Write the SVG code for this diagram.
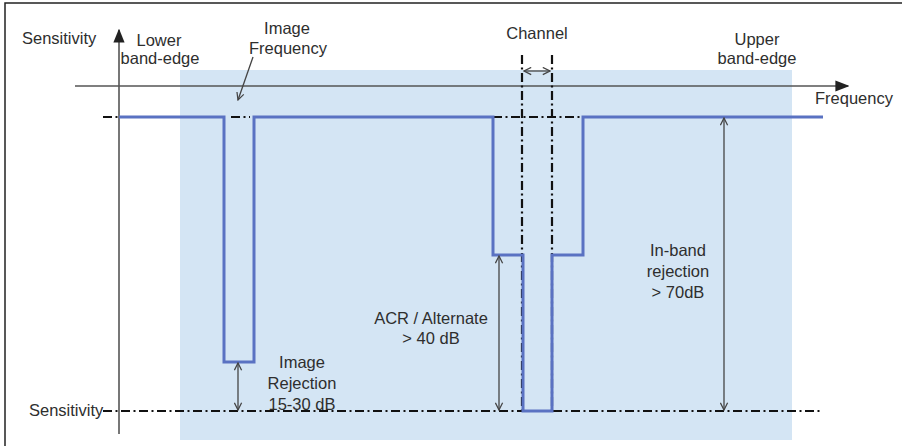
<svg xmlns="http://www.w3.org/2000/svg" width="902" height="446" viewBox="0 0 902 446">
<defs>
<style>
text{font-family:"Liberation Sans",Arial,sans-serif;font-size:16.5px;fill:#2e2e2e;}
.mid{text-anchor:middle;}
.dd{fill:none;stroke:#111;stroke-width:2.2;stroke-dasharray:9 3.5 2 3.5;}
.resp{fill:none;stroke:#5a72c2;stroke-width:3;}
.axis{fill:none;stroke:#555;stroke-width:1.6;}
.dim{fill:none;stroke:#444;stroke-width:1.3;marker-start:url(#open);marker-end:url(#open);}
</style>
<marker id="open" viewBox="0 0 10 10" refX="9" refY="5" markerWidth="9" markerHeight="9" markerUnits="userSpaceOnUse" orient="auto-start-reverse">
<path d="M1,1 L9,5 L1,9" fill="none" stroke="#444" stroke-width="1.4"/>
</marker>
<marker id="solid" viewBox="0 0 10 10" refX="9" refY="5" markerWidth="14" markerHeight="14" markerUnits="userSpaceOnUse" orient="auto">
<path d="M0,1 L10,5 L0,9 Z" fill="#222"/>
</marker>
</defs>
<rect x="0" y="0" width="902" height="446" fill="#fff"/>
<path d="M5,446 V3 H902" fill="none" stroke="#222" stroke-width="1.5"/>
<rect x="180" y="70" width="612" height="370" fill="#d4e5f4"/>
<g id="axes">
<line class="axis" x1="119" y1="434" x2="119" y2="30" marker-end="url(#solid)"/>
<line class="axis" x1="75" y1="86" x2="848" y2="86" marker-end="url(#solid)"/>
</g>
<g id="reference-lines">
<line class="dd" x1="103" y1="117" x2="119" y2="117"/>
<line class="dd" x1="231" y1="117" x2="250" y2="117"/>
<line class="dd" x1="493" y1="117" x2="583" y2="117"/>
<line class="dd" x1="522" y1="55" x2="522" y2="411"/>
<line class="dd" x1="552" y1="55" x2="552" y2="411"/>
<line class="dd" x1="103" y1="411" x2="820" y2="411"/>
</g>
<g id="response">
<path class="resp" d="M119,117 H224 V362 H254 V117 H493 V255 H523 V411 H552 V255 H583 V117 H823"/>
</g>
<g id="connectors">
<line class="dim" x1="524" y1="71" x2="550" y2="71"/>
<line class="dim" x1="238" y1="363" x2="238" y2="410"/>
<line class="dim" x1="499" y1="256" x2="499" y2="410"/>
<line class="dim" x1="724" y1="118" x2="724" y2="410"/>
<line x1="253" y1="57" x2="238" y2="100" fill="none" stroke="#444" stroke-width="1.3" marker-end="url(#open)"/>
</g>
<g id="labels">
<text x="22" y="44">Sensitivity</text>
<text class="mid" x="159" y="46">Lower</text>
<text class="mid" x="160" y="64">band-edge</text>
<text class="mid" x="287" y="34">Image</text>
<text class="mid" x="288" y="54">Frequency</text>
<text class="mid" x="537" y="39">Channel</text>
<text class="mid" x="757" y="45">Upper</text>
<text class="mid" x="757" y="64">band-edge</text>
<text x="815" y="104">Frequency</text>
<text class="mid" x="302" y="368">Image</text>
<text class="mid" x="302" y="389">Rejection</text>
<text class="mid" x="302" y="410">15-30 dB</text>
<text class="mid" x="431" y="324">ACR / Alternate</text>
<text class="mid" x="431" y="344">&gt; 40 dB</text>
<text class="mid" x="678" y="256">In-band</text>
<text class="mid" x="678" y="277">rejection</text>
<text class="mid" x="678" y="298">&gt; 70dB</text>
<text x="29" y="416">Sensitivity</text>
</g>
</svg>
